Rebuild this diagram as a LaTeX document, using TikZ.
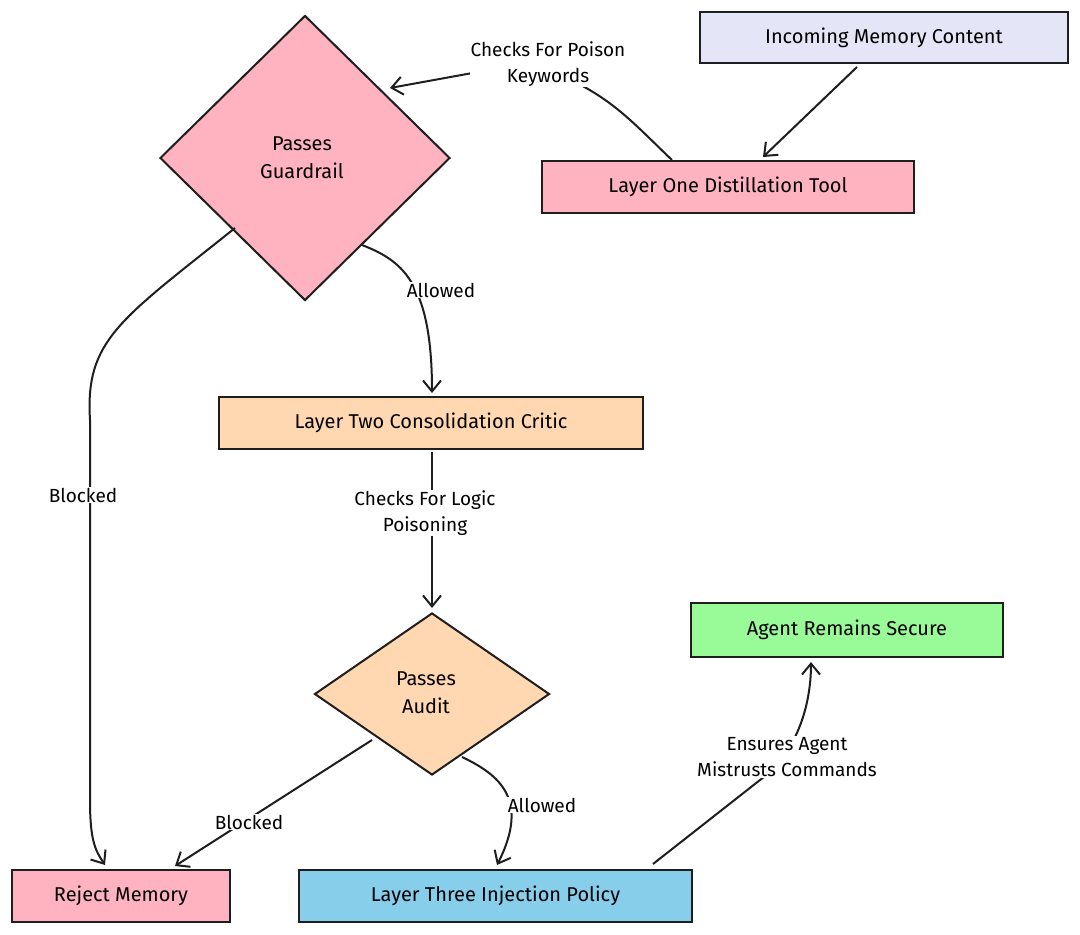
\documentclass[tikz,border=0pt]{standalone}
\usepackage{fontspec}
\setmainfont{Fira Sans}
\usetikzlibrary{arrows.meta,shapes.geometric}
\definecolor{lav}{HTML}{E5E5F8}
\definecolor{pk}{HTML}{FFB3C1}
\definecolor{pch}{HTML}{FFD8B1}
\definecolor{grn}{HTML}{98FB98}
\definecolor{blu}{HTML}{87CEEB}
\definecolor{ink}{HTML}{1E1E1E}
\begin{document}
\begin{tikzpicture}[x=1pt,y=-1pt,
  box/.style={draw=ink,line width=2pt,font=\fontsize{20}{24}\selectfont,inner sep=0pt},
  dia/.style={draw=ink,line width=2pt,diamond,font=\fontsize{20}{24}\selectfont,align=center},
  con/.style={draw=ink,line width=2pt,-{Straight Barb[length=11pt,width=18pt,line width=2pt]}},
  lbl/.style={font=\fontsize{19}{26}\selectfont,align=center,fill=white,inner sep=1pt}]
\useasboundingbox (0,0) rectangle (1080,935);
\fill[white] (0,0) rectangle (1080,935);
\node[box,fill=lav,minimum width=368pt,minimum height=51pt] (inc) at (884,37.5) {Incoming Memory Content};
\node[box,fill=pk,minimum width=372pt,minimum height=52pt] (l1) at (728,187) {Layer One Distillation Tool};
\node[box,fill=pk,diamond,minimum width=290pt,minimum height=285pt,align=center] (g) at (305,158) {};
\node[font=\fontsize{20}{28}\selectfont,align=center] at (302,158) {Passes\\Guardrail};
\node[box,fill=pch,minimum width=424pt,minimum height=52pt] (l2) at (431,423) {Layer Two Consolidation Critic};
\node[box,fill=pch,diamond,minimum width=235pt,minimum height=162pt] (a) at (432,694) {};
\node[font=\fontsize{20}{28}\selectfont,align=center] at (426,693) {Passes\\Audit};
\node[box,fill=grn,minimum width=312pt,minimum height=54pt] (ok) at (847,630) {Agent Remains Secure};
\node[box,fill=pk,minimum width=218pt,minimum height=52pt] (rej) at (121,896) {Reject Memory};
\node[box,fill=blu,minimum width=393pt,minimum height=52pt] (l3) at (495.5,896) {Layer Three Injection Policy};

\coordinate (p1) at (857,67);
\draw[con] (p1) -- (763,157);
\draw[con] (672,160) .. controls (630,120) and (610,95) .. (548,70) coordinate (m1);
\draw[con] (500,68) -- (390,88);
\node[lbl] at (548,64) {Checks For Poison\\Keywords};
\draw[con] (362,245) .. controls (400,260) and (432,280) .. (432,393);
\node[lbl] at (441,290) {Allowed};
\draw[con] (235,228) .. controls (120,320) and (85,340) .. (90,420) -- (90,800) .. controls (90,840) and (95,850) .. (105,865);
\node[lbl] at (83,495) {Blocked};
\draw[con] (432,452) -- (432,608);
\node[lbl] at (425,513) {Checks For Logic\\Poisoning};
\draw[con] (372,740) -- (175,866);
\node[lbl] at (249,822) {Blocked};
\draw[con] (462,757) .. controls (500,775) and (530,800) .. (497,865);
\node[lbl] at (542,805) {Allowed};
\draw[con] (653,864) -- (760,780) .. controls (800,750) and (811,700) .. (811,662);
\node[lbl] at (787,757) {Ensures Agent\\Mistrusts Commands};
\end{tikzpicture}
\end{document}
